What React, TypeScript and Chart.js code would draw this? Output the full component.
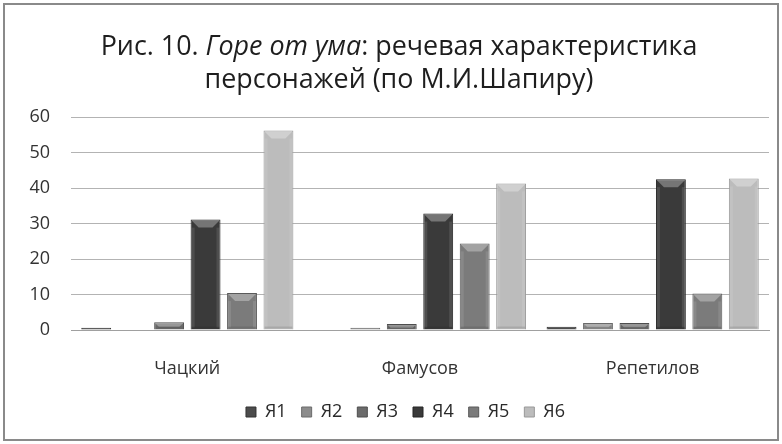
import React, { useEffect, useRef } from "react";
import { Chart, registerables } from "chart.js";

Chart.register(...registerables);

// ---------- data ----------
const categories = ["Чацкий", "Фамусов", "Репетилов"];
const seriesLabels = ["Я1", "Я2", "Я3", "Я4", "Я5", "Я6"];
const ya1 = [0.6, 0, 0.9];
const ya2 = [0, 0.6, 2.0];
const ya3 = [2.2, 1.7, 2.0];
const ya4 = [31.1, 32.8, 42.5];
const ya5 = [10.4, 24.4, 10.3];
const ya6 = [56.2, 41.3, 42.7];
const seriesValues = [ya1, ya2, ya3, ya4, ya5, ya6];
const yMin = 0;
const yMax = 60;
const yStep = 10;

const titleParts = [
  { text: "Рис. 10. ", italic: false },
  { text: "Горе от ума", italic: true },
  { text: ": речевая характеристика", italic: false },
];
const titleLine2 = "персонажей (по М.И.Шапиру)";

// ---------- styles ----------
const FONT = "'Open Sans', 'Noto Sans', 'DejaVu Sans', sans-serif";
const seriesColors = ["#4c4c4c", "#8c8c8c", "#6b6b6b", "#3a3a3a", "#7b7b7b", "#bcbcbc"];
const seriesBorders = ["#333333", "#6a6a6a", "#4e4e4e", "#242424", "#5a5a5a", "#999999"];

const framePlugin = {
  id: "frame",
  beforeDraw(chart: any) {
    const { ctx, width, height } = chart;
    ctx.save();
    ctx.fillStyle = "#ffffff";
    ctx.fillRect(0, 0, width, height);
    ctx.strokeStyle = "#8a8a8a";
    ctx.lineWidth = 2;
    ctx.strokeRect(4, 4, width - 8, height - 8);
    ctx.restore();
  },
};

const titlePlugin = {
  id: "richTitle",
  afterDraw(chart: any) {
    const ctx = chart.ctx;
    ctx.save();
    const targetW = 597;
    const fN = (s: number) => `${s}px ${FONT}`;
    const fI = (s: number) => `italic ${s}px ${FONT}`;
    const measure = (s: number) =>
      titleParts.reduce((w, p) => {
        ctx.font = p.italic ? fI(s) : fN(s);
        return w + ctx.measureText(p.text).width;
      }, 0);
    const size = (24 * targetW) / measure(24);
    const w1 = measure(size);
    const cx = 399;
    let x = cx - w1 / 2;
    ctx.fillStyle = "#1e1e1e";
    ctx.textBaseline = "middle";
    ctx.textAlign = "left";
    for (const p of titleParts) {
      ctx.font = p.italic ? fI(size) : fN(size);
      ctx.fillText(p.text, x, 47);
      x += ctx.measureText(p.text).width;
    }
    ctx.font = fN(size);
    ctx.textAlign = "center";
    ctx.fillText(titleLine2, cx, 80);
    ctx.restore();
  },
};

const bevelPlugin = {
  id: "bevel",
  afterDatasetsDraw(chart: any) {
    const ctx = chart.ctx;
    chart.data.datasets.forEach((_ds: any, i: number) => {
      const meta = chart.getDatasetMeta(i);
      meta.data.forEach((bar: any) => {
        const { x, y, base, width } = bar.getProps(["x", "y", "base", "width"], true);
        const h = base - y;
        if (h < 3) return;
        const l = x - width / 2 + 1;
        const r = x + width / 2 - 1;
        const b = Math.min(7, h / 2);
        ctx.save();
        ctx.fillStyle = "rgba(255,255,255,0.30)";
        ctx.beginPath();
        ctx.moveTo(l, y + 1);
        ctx.lineTo(r, y + 1);
        ctx.lineTo(r - b, y + 1 + b);
        ctx.lineTo(l + b, y + 1 + b);
        ctx.closePath();
        ctx.fill();
        ctx.fillStyle = "rgba(255,255,255,0.10)";
        ctx.fillRect(l, y + 1 + b, 3, Math.max(0, h - b - 3));
        ctx.fillRect(r - 3, y + 1 + b, 3, Math.max(0, h - b - 3));
        ctx.fillStyle = "rgba(0,0,0,0.10)";
        ctx.fillRect(l, base - 3, r - l, 2);
        ctx.restore();
      });
    });
  },
};

const legendShiftPlugin = {
  id: "legendShift",
  afterLayout(chart: any) {
    if (chart.legend) {
      chart.legend.left += 21;
      chart.legend.right += 21;
    }
  },
};

export default function App() {
  const ref = useRef<HTMLCanvasElement | null>(null);

  useEffect(() => {
    if (!ref.current) return;
    const tickFont = { family: FONT, size: 18 };
    const chart = new Chart(ref.current, {
      type: "bar",
      data: {
        labels: categories,
        datasets: seriesLabels.map((label, i) => ({
          label,
          data: seriesValues[i],
          backgroundColor: seriesColors[i],
          borderColor: seriesBorders[i],
          borderWidth: 1,
          categoryPercentage: 0.94,
          barPercentage: 0.82,
        })),
      },
      options: {
        responsive: false,
        animation: false,
        devicePixelRatio: 1,
        layout: { padding: { left: 0, right: 13, top: 117, bottom: 13 } },
        plugins: {
          title: { display: false },
          tooltip: { enabled: false },
          legend: {
            position: "bottom",
            labels: {
              boxWidth: 10,
              boxHeight: 10,
              padding: 15,
              color: "#2a2a2a",
              font: tickFont,
            },
          },
        },
        scales: {
          x: {
            grid: { display: false },
            border: { display: true, color: "#a0a0a0", width: 1 },
            ticks: { font: tickFont, color: "#333333", padding: 20 },
            afterFit: (s: any) => {
              s.height = 58;
            },
          },
          y: {
            min: yMin,
            max: yMax,
            ticks: { stepSize: yStep, font: tickFont, color: "#333333", padding: 21 },
            grid: { color: "#b3b3b3", drawTicks: false },
            border: { display: false },
            afterFit: (s: any) => {
              s.width = 71;
            },
          },
        },
      } as any,
      plugins: [framePlugin, titlePlugin, bevelPlugin, legendShiftPlugin],
    });
    return () => chart.destroy();
  }, []);

  return (
    <div style={{ position: "absolute", left: 0, top: 0, width: 782, height: 444, background: "#fff" }}>
      <canvas ref={ref} width={782} height={444} style={{ width: 782, height: 444, display: "block" }} />
    </div>
  );
}
